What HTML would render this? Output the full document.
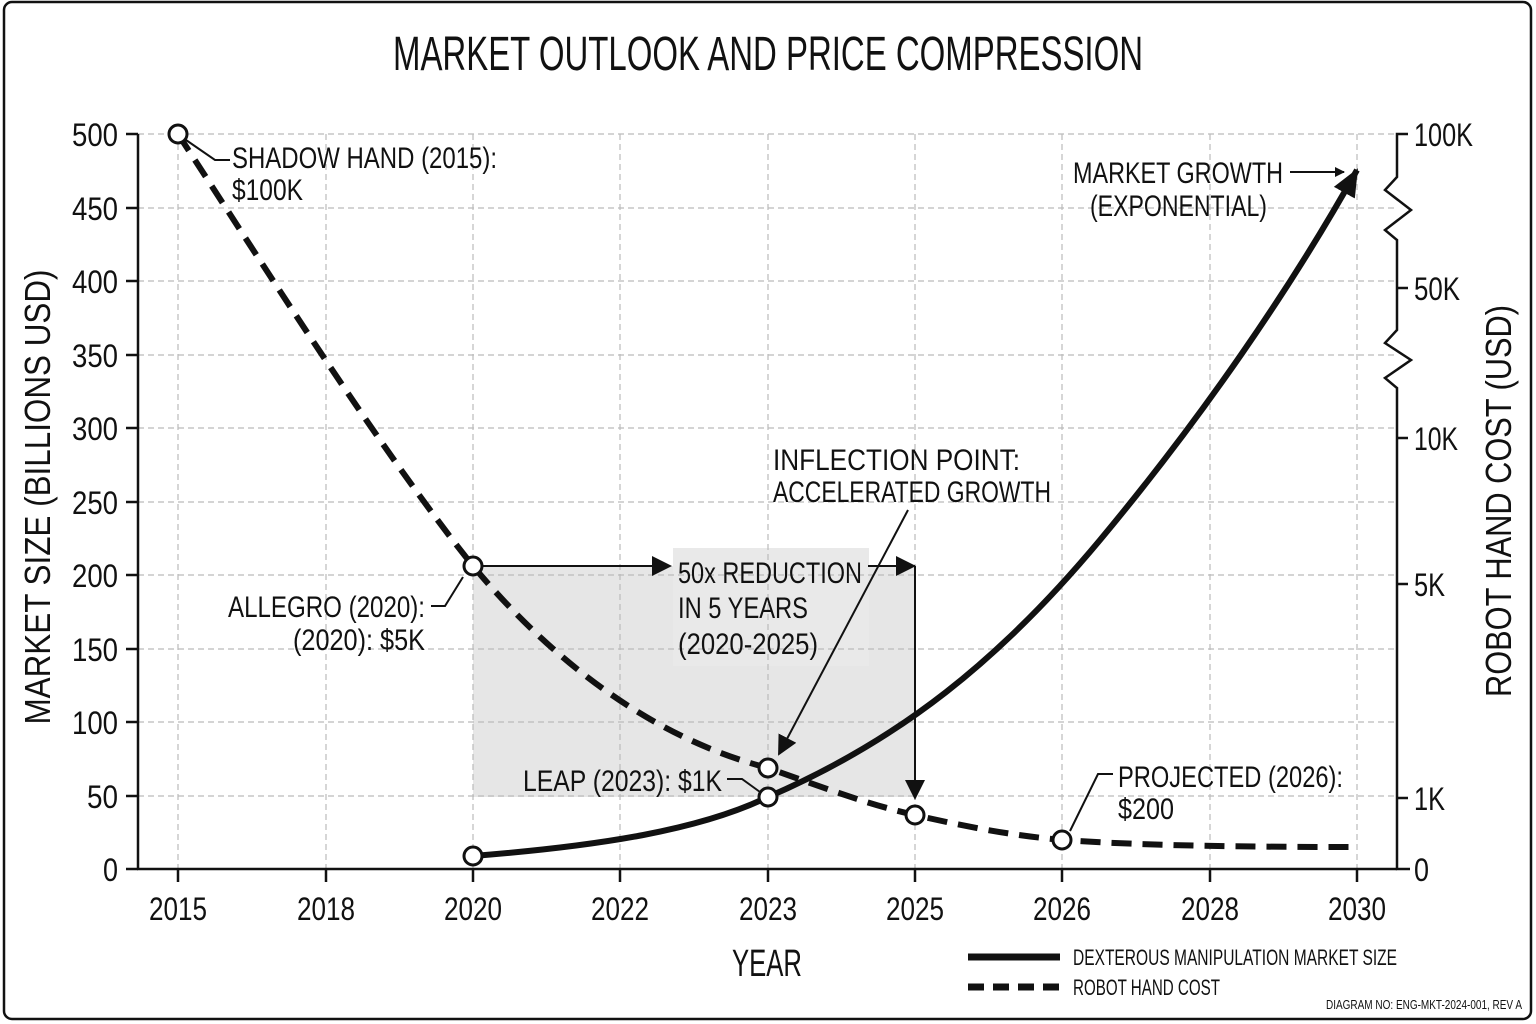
<!DOCTYPE html>
<html><head><meta charset="utf-8"><style>
html,body{margin:0;padding:0;background:#fff}
svg{display:block}
text{font-family:"Liberation Sans Narrow","Liberation Sans",sans-serif;fill:#111}
</style></head><body>
<svg width="1536" height="1024" viewBox="0 0 1536 1024" xmlns="http://www.w3.org/2000/svg">
<defs>
<marker id="ah" markerWidth="10" markerHeight="10" refX="9" refY="5" orient="auto" markerUnits="userSpaceOnUse"><path d="M0,0 L10,5 L0,10 Z" fill="#111"/></marker>
<marker id="ahs" viewBox="0 0 20 20" markerWidth="20" markerHeight="20" refX="18" refY="10" orient="auto" markerUnits="userSpaceOnUse"><path d="M0,0 L20,10 L0,20 Z" fill="#111"/></marker>
<marker id="ahb" viewBox="0 0 30 30" markerWidth="30" markerHeight="30" refX="26" refY="15" orient="auto" markerUnits="userSpaceOnUse"><path d="M0,3 L28,15 L0,27 Z" fill="#111"/></marker>
</defs>
<rect x="4" y="2" width="1527" height="1017" rx="8" fill="#fff" stroke="#111" stroke-width="2.5"/>
<text x="768" y="70" font-size="48" text-anchor="middle" textLength="750" lengthAdjust="spacingAndGlyphs">MARKET OUTLOOK AND PRICE COMPRESSION</text>

<rect x="473" y="566" width="442" height="231" fill="#e6e6e6"/>
<rect x="673" y="548" width="196" height="118" fill="#e9e9e9"/>

<g stroke="#bbb" stroke-width="1.2" stroke-dasharray="6,4">
<line x1="138" y1="134" x2="1397" y2="134"/><line x1="138" y1="208" x2="1397" y2="208"/>
<line x1="138" y1="281" x2="1397" y2="281"/><line x1="138" y1="355" x2="1397" y2="355"/>
<line x1="138" y1="428" x2="1397" y2="428"/><line x1="138" y1="502" x2="1397" y2="502"/>
<line x1="138" y1="575" x2="1397" y2="575"/><line x1="138" y1="649" x2="1397" y2="649"/>
<line x1="138" y1="722" x2="1397" y2="722"/><line x1="138" y1="796" x2="1397" y2="796"/>
<line x1="178" y1="134" x2="178" y2="869"/><line x1="326" y1="134" x2="326" y2="869"/>
<line x1="473" y1="134" x2="473" y2="869"/><line x1="620" y1="134" x2="620" y2="869"/>
<line x1="768" y1="134" x2="768" y2="869"/><line x1="915" y1="134" x2="915" y2="869"/>
<line x1="1062" y1="134" x2="1062" y2="869"/><line x1="1210" y1="134" x2="1210" y2="869"/>
<line x1="1357" y1="134" x2="1357" y2="869"/>
</g>

<g stroke="#111" stroke-width="2.5" fill="none">
<line x1="138" y1="134" x2="138" y2="870"/>
<line x1="137" y1="869" x2="1397" y2="869"/>
<path d="M1408,134 L1397,134 L1397,177 L1385,190 L1411,210 L1385,230 L1397,240 L1397,330 L1385,343 L1411,360 L1385,378 L1397,388 L1397,869 L1410,869"/>
<path d="M1397,288 H1408 M1397,438 H1408 M1397,584 H1408 M1397,798 H1408"/>
<path d="M126,134H138 M126,208H138 M126,281H138 M126,355H138 M126,428H138 M126,502H138 M126,575H138 M126,649H138 M126,722H138 M126,796H138 M126,869H138"/>
<path d="M178,869V882 M326,869V882 M473,869V882 M620,869V882 M768,869V882 M915,869V882 M1062,869V882 M1210,869V882 M1357,869V882"/>
</g>

<g font-size="32" text-anchor="end" lengthAdjust="spacingAndGlyphs">
<text x="118" y="146" textLength="46" lengthAdjust="spacingAndGlyphs">500</text><text x="118" y="220" textLength="46" lengthAdjust="spacingAndGlyphs">450</text><text x="118" y="293" textLength="46" lengthAdjust="spacingAndGlyphs">400</text>
<text x="118" y="367" textLength="46" lengthAdjust="spacingAndGlyphs">350</text><text x="118" y="440" textLength="46" lengthAdjust="spacingAndGlyphs">300</text><text x="118" y="514" textLength="46" lengthAdjust="spacingAndGlyphs">250</text>
<text x="118" y="587" textLength="46" lengthAdjust="spacingAndGlyphs">200</text><text x="118" y="661" textLength="46" lengthAdjust="spacingAndGlyphs">150</text><text x="118" y="734" textLength="46" lengthAdjust="spacingAndGlyphs">100</text>
<text x="118" y="808" textLength="31" lengthAdjust="spacingAndGlyphs">50</text><text x="118" y="881" textLength="15" lengthAdjust="spacingAndGlyphs">0</text>
</g>
<g font-size="32">
<text x="1414" y="146" textLength="59" lengthAdjust="spacingAndGlyphs">100K</text><text x="1414" y="300" textLength="46" lengthAdjust="spacingAndGlyphs">50K</text><text x="1414" y="450" textLength="44" lengthAdjust="spacingAndGlyphs">10K</text>
<text x="1414" y="596" textLength="31" lengthAdjust="spacingAndGlyphs">5K</text><text x="1414" y="810" textLength="31" lengthAdjust="spacingAndGlyphs">1K</text><text x="1414" y="881" textLength="15" lengthAdjust="spacingAndGlyphs">0</text>
</g>
<g font-size="32" text-anchor="middle">
<text x="178" y="920" textLength="58" lengthAdjust="spacingAndGlyphs">2015</text><text x="326" y="920" textLength="58" lengthAdjust="spacingAndGlyphs">2018</text><text x="473" y="920" textLength="58" lengthAdjust="spacingAndGlyphs">2020</text>
<text x="620" y="920" textLength="58" lengthAdjust="spacingAndGlyphs">2022</text><text x="768" y="920" textLength="58" lengthAdjust="spacingAndGlyphs">2023</text><text x="915" y="920" textLength="58" lengthAdjust="spacingAndGlyphs">2025</text>
<text x="1062" y="920" textLength="58" lengthAdjust="spacingAndGlyphs">2026</text><text x="1210" y="920" textLength="58" lengthAdjust="spacingAndGlyphs">2028</text><text x="1357" y="920" textLength="58" lengthAdjust="spacingAndGlyphs">2030</text>
</g>
<text x="767" y="976" font-size="38" text-anchor="middle" textLength="70" lengthAdjust="spacingAndGlyphs">YEAR</text>
<text transform="translate(50,497) rotate(-90)" font-size="36" text-anchor="middle" textLength="455" lengthAdjust="spacingAndGlyphs">MARKET SIZE (BILLIONS USD)</text>
<text transform="translate(1511,501) rotate(-90)" font-size="36" text-anchor="middle" textLength="392" lengthAdjust="spacingAndGlyphs">ROBOT HAND COST (USD)</text>

<path d="M178,134 C260,260 380,450 473,566 C560,670 660,740 768,768 C830,790 870,805 915,815 C980,830 1020,836 1062,840 C1150,846 1250,847 1357,847" fill="none" stroke="#111" stroke-width="6" stroke-dasharray="20,11"/>
<path d="M473,856 C600,846 700,830 768,797 C900,740 1000,660 1100,540 C1200,420 1290,290 1357,170" fill="none" stroke="#111" stroke-width="6" marker-end="url(#ahb)"/>

<g stroke="#111" stroke-width="2" fill="none">
<polyline points="186,140 215,160 230,160"/>
<line x1="1290" y1="172" x2="1344" y2="172" marker-end="url(#ah)"/>
<line x1="908" y1="510" x2="779" y2="754" marker-end="url(#ahs)"/>
<line x1="482" y1="566" x2="670" y2="566" marker-end="url(#ahs)"/>
<polyline points="868,566 915,566"/>
<line x1="895" y1="566" x2="914" y2="566" marker-end="url(#ahs)"/>
<line x1="915" y1="566" x2="915" y2="798" marker-end="url(#ahs)"/>
<polyline points="431,606 445,606 463,577"/>
<polyline points="727,779 742,779 760,792"/>
<polyline points="1113,774 1098,774 1070,831"/>
</g>
<g font-size="30">
<text x="232" y="168" textLength="265" lengthAdjust="spacingAndGlyphs">SHADOW HAND (2015):</text>
<text x="232" y="200" textLength="71" lengthAdjust="spacingAndGlyphs">$100K</text>
<text x="1073" y="183" textLength="210" lengthAdjust="spacingAndGlyphs">MARKET GROWTH</text>
<text x="1090" y="216" textLength="177" lengthAdjust="spacingAndGlyphs">(EXPONENTIAL)</text>
<text x="773" y="470" textLength="247" lengthAdjust="spacingAndGlyphs">INFLECTION POINT:</text>
<text x="773" y="502" textLength="278" lengthAdjust="spacingAndGlyphs">ACCELERATED GROWTH</text>
<text x="678" y="583" textLength="184" lengthAdjust="spacingAndGlyphs">50x REDUCTION</text>
<text x="678" y="618" textLength="130" lengthAdjust="spacingAndGlyphs">IN 5 YEARS</text>
<text x="678" y="654" textLength="140" lengthAdjust="spacingAndGlyphs">(2020-2025)</text>
<text x="228" y="617" textLength="197" lengthAdjust="spacingAndGlyphs">ALLEGRO (2020):</text>
<text x="293" y="650" textLength="132" lengthAdjust="spacingAndGlyphs">(2020): $5K</text>
<text x="523" y="791" textLength="199" lengthAdjust="spacingAndGlyphs">LEAP (2023): $1K</text>
<text x="1118" y="787" textLength="225" lengthAdjust="spacingAndGlyphs">PROJECTED (2026):</text>
<text x="1118" y="819" textLength="56" lengthAdjust="spacingAndGlyphs">$200</text>
</g>

<g fill="#fff" stroke="#111" stroke-width="3">
<circle cx="178" cy="134" r="9"/><circle cx="473" cy="566" r="9"/><circle cx="473" cy="856" r="9"/>
<circle cx="768" cy="768" r="9"/><circle cx="768" cy="797" r="9"/><circle cx="915" cy="815" r="9"/>
<circle cx="1062" cy="840" r="9"/>
</g>

<line x1="968" y1="957" x2="1060" y2="957" stroke="#111" stroke-width="7"/>
<line x1="968" y1="987" x2="1060" y2="987" stroke="#111" stroke-width="7" stroke-dasharray="16,9"/>
<text x="1073" y="965" font-size="22" textLength="324" lengthAdjust="spacingAndGlyphs">DEXTEROUS MANIPULATION MARKET SIZE</text>
<text x="1073" y="995" font-size="22" textLength="147" lengthAdjust="spacingAndGlyphs">ROBOT HAND COST</text>
<text x="1326" y="1009" font-size="13" textLength="196" lengthAdjust="spacingAndGlyphs">DIAGRAM NO: ENG-MKT-2024-001, REV A</text>
</svg>
</body></html>
